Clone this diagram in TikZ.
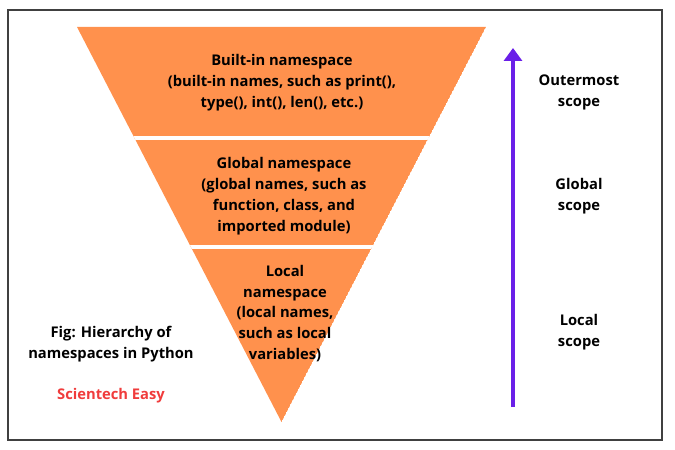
\documentclass[tikz,border=0pt]{standalone}
\usepackage{fontspec}
\setmainfont{Open Sans}[BoldFont={* Bold}]
\usetikzlibrary{arrows.meta}
\definecolor{band}{HTML}{FF914D}
\definecolor{arrowc}{HTML}{6A1FE8}
\definecolor{brand}{HTML}{F03C3C}
\begin{document}
\begin{tikzpicture}[x=1bp,y=-1bp,
  lbl/.style={font=\bfseries\fontsize{14.8}{21}\selectfont, align=center, text=black, inner sep=0pt},
  red/.style={lbl, text=brand}]
\useasboundingbox (0,0) rectangle (675,450);
\draw[line width=1.5bp, draw=black!75] (8,10) rectangle (662,440);
% inverted triangle
\coordinate (tl) at (77,27);
\coordinate (tr) at (486,27);
\coordinate (ap) at (281.5,422);
\begin{scope}
\clip (tl) -- (tr) -- (ap) -- cycle;
\fill[band] (tl) -- (tr) -- (ap) -- cycle;
\fill[white] (60,136) rectangle (500,140);
\fill[white] (60,245) rectangle (500,249);
\end{scope}
% band labels
\node[lbl] (b1) at (282,82.5) {Built-in namespace\\(built-in names, such as print(),\\type(), int(), len(), etc.)};
\node[lbl] (b2) at (284,196) {Global namespace\\(global names, such as\\function, class, and\\imported module)};
\node[lbl] (b3) at (285,313.5) {Local\\namespace\\(local names,\\such as local\\variables)};
% caption
\node[lbl] (cap) at (111,344) {Fig: Hierarchy of\\namespaces in Python};
\node[red] (brand) at (111,395.5) {Scientech Easy};
% arrow
\coordinate (abot) at (513,407);
\coordinate (atop) at (513,48);
\draw[arrowc, line width=4bp, -{Triangle[width=18bp,length=13bp]}] (abot) -- (atop);
% scope labels
\node[lbl] (s1) at (579,92) {Outermost\\scope};
\node[lbl] (s2) at (579,196.5) {Global\\scope};
\node[lbl] (s3) at (579,332) {Local\\scope};
\end{tikzpicture}
\end{document}
